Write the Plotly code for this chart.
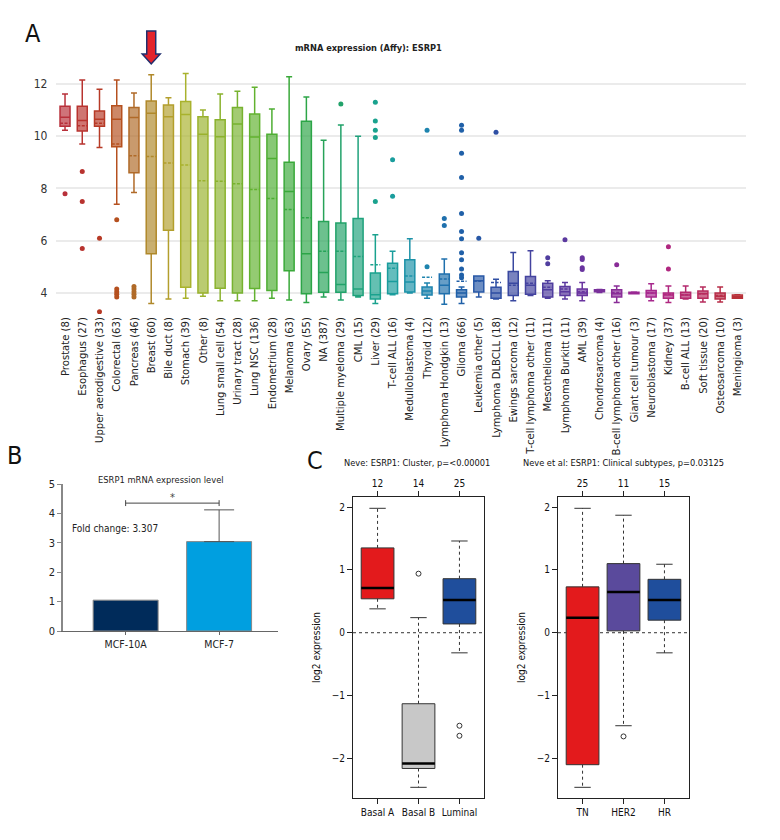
import plotly.graph_objects as go

FONT = "Liberation Sans Narrow, DejaVu Sans Condensed, Arial Narrow, sans-serif"
W, H = 780, 840
OFF = 8  # page body margin in the browser

# ---------------- panel A data ----------------
tissues = ["Prostate (8)", "Esophagus (27)", "Upper aerodigestive (33)", "Colorectal (63)",
           "Pancreas (46)", "Breast (60)", "Bile duct (8)", "Stomach (39)", "Other (8)",
           "Lung small cell (54)", "Urinary tract (28)", "Lung NSC (136)", "Endometrium (28)",
           "Melanoma (63)", "Ovary (55)", "NA (387)", "Multiple myeloma (29)", "CML (15)",
           "Liver (29)", "T-cell ALL (16)", "Medulloblastoma (4)", "Thyroid (12)",
           "Lymphoma Hondgkin (13)", "Glioma (66)", "Leukemia other (5)", "Lymphoma DLBCLL (18)",
           "Ewings sarcoma (12)", "T-cell lymphoma other (11)", "Mesothelioma (11)",
           "Lymphoma Burkitt (11)", "AML (39)", "Chondrosarcoma (4)", "B-cell lymphoma other (16)",
           "Giant cell tumour (3)", "Neuroblastoma (17)", "Kidney (37)", "B-cell ALL (13)",
           "Soft tissue (20)", "Osteosarcoma (10)", "Meningioma (3)"]
a_upper = [11.62, 12.15, 11.8, 12.15, 11.65, 12.35, 11.47, 12.4, 11.0, 11.62, 11.72, 11.87,
           11.04, 12.28, 11.5, 9.85, 10.43, 10.0, 6.23, 5.6, 6.08, 4.38, 5.3, 4.23, 4.65, 4.53,
           5.55, 5.62, 4.47, 4.4, 4.4, 4.13, 4.27, 4.04, 4.35, 4.27, 4.27, 4.23, 4.23, 3.93]
a_q3 = [11.15, 11.15, 10.97, 11.17, 11.1, 11.35, 11.2, 11.33, 10.75, 10.63, 11.1, 10.85,
        10.08, 9.0, 10.57, 6.74, 6.68, 6.85, 4.77, 5.14, 5.27, 4.23, 4.73, 4.12, 4.65, 4.22,
        4.82, 4.63, 4.37, 4.25, 4.15, 4.12, 4.12, 4.03, 4.1, 4.0, 4.03, 4.08, 4.0, 3.92]
a_median = [10.73, 10.6, 10.65, 10.65, 10.72, 10.88, 10.75, 10.83, 10.08, 9.98, 10.47, 9.97,
            9.15, 7.88, 5.5, 4.78, 4.33, 4.15, 3.93, 4.44, 4.42, 4.08, 4.3, 4.0, 4.47, 4.0,
            4.37, 4.3, 4.12, 4.05, 4.0, 4.08, 3.97, 4.0, 4.0, 3.92, 3.92, 3.97, 3.88, 3.86]
a_mean = [10.5, 10.4, 10.5, 9.7, 9.25, 9.22, 8.98, 8.9, 8.3, 8.28, 8.18, 7.96,
          7.62, 7.2, 6.88, 5.6, 5.6, 5.4, 5.08, 4.95, 4.65, 4.6, 4.54, 4.45, 4.45, 4.4,
          4.3, 4.37, 4.22, 4.15, 4.05, 4.08, 4.02, 4.0, 4.0, 3.95, 3.93, 3.97, 3.9, 3.86]
a_q1 = [10.38, 10.2, 10.38, 9.6, 8.6, 5.5, 6.4, 4.22, 4.0, 4.18, 4.0, 4.17,
        4.1, 4.85, 3.97, 4.03, 4.03, 3.9, 3.77, 3.97, 4.04, 3.92, 3.97, 3.85, 4.04, 3.8,
        3.9, 3.95, 3.85, 3.9, 3.9, 4.05, 3.85, 3.97, 3.85, 3.8, 3.8, 3.8, 3.77, 3.8]
a_lower = [10.23, 9.7, 9.57, 7.4, 7.85, 3.6, 3.77, 3.8, 3.88, 3.7, 3.7, 3.7,
           3.8, 3.73, 3.64, 3.85, 3.73, 3.85, 3.6, 3.93, 4.0, 3.8, 3.57, 3.6, 3.85, 3.77,
           3.7, 3.9, 3.8, 3.77, 3.7, 4.02, 3.64, 3.97, 3.7, 3.64, 3.77, 3.66, 3.66, 3.8]
a_outliers = {
    "Prostate (8)": [7.8],
    "Esophagus (27)": [8.65, 7.5, 5.7],
    "Upper aerodigestive (33)": [6.1, 3.28],
    "Colorectal (63)": [6.8, 4.15, 4.05, 3.95, 3.85],
    "Pancreas (46)": [4.25, 4.15, 4.05, 3.95, 3.85],
    "Multiple myeloma (29)": [11.23],
    "Liver (29)": [11.3, 10.58, 10.23, 9.95, 7.5],
    "T-cell ALL (16)": [9.1, 7.7],
    "Thyroid (12)": [10.23, 5.0],
    "Lymphoma Hondgkin (13)": [6.85, 6.58],
    "Glioma (66)": [10.42, 10.23, 9.35, 8.42, 7.04, 6.35, 6.08, 5.54, 5.27, 4.92, 4.69, 4.58],
    "Leukemia other (5)": [6.1],
    "Lymphoma DLBCLL (18)": [10.15],
    "Mesothelioma (11)": [5.35, 5.12],
    "Lymphoma Burkitt (11)": [6.04],
    "AML (39)": [5.35, 5.28, 4.97, 4.9],
    "B-cell lymphoma other (16)": [5.08],
    "Kidney (37)": [5.77, 4.92],
}
a_colors = ["#b8303a", "#b8332f", "#b73a26", "#b5501f", "#b06a28", "#b0892b", "#b39f2d",
            "#a9b22d", "#9ab22e", "#8ab22e", "#77b22f", "#62b22f", "#4eae33", "#3aa93a",
            "#2ca547", "#27a358", "#22a26a", "#1fa27c", "#1aa28e", "#1a9d9d", "#1c92a8",
            "#1e84ae", "#1f70ad", "#2060a8", "#2858a6", "#2f4fa4", "#3948a0", "#44439f",
            "#503e9f", "#5b399f", "#69349f", "#79309b", "#892c97", "#992893", "#a7288d",
            "#b02880", "#b4296e", "#b72b5c", "#b82e48", "#b83038"]

# ---------------- panel B data ----------------
b_lines = ["MCF-10A", "MCF-7"]
b_values = [1.05, 3.04]
b_err = [None, 1.08]
b_colors = ["#002b5a", "#009fe0"]

# ---------------- panel C data ----------------
c1_groups = ["Basal A", "Basal B", "Luminal"]
c1_n = ["12", "14", "25"]
c1_upper = [1.98, 0.24, 1.46]
c1_q3 = [1.35, -1.13, 0.86]
c1_median = [0.71, -2.08, 0.52]
c1_q1 = [0.54, -2.16, 0.14]
c1_lower = [0.38, -2.46, -0.32]
c1_out = [[], [0.94], [-1.48, -1.64]]
c1_colors = ["#e31a1c", "#c8c8c8", "#1f4e9c"]

c2_groups = ["TN", "HER2", "HR"]
c2_n = ["25", "11", "15"]
c2_upper = [1.98, 1.87, 1.09]
c2_q3 = [0.73, 1.1, 0.85]
c2_median = [0.24, 0.65, 0.52]
c2_q1 = [-2.1, 0.03, 0.2]
c2_lower = [-2.46, -1.48, -0.32]
c2_out = [[], [-1.65], []]
c2_colors = ["#e31a1c", "#5a4a9c", "#1f4e9c"]


def px_x(p):
    return (p - OFF) / W


def px_y(p):
    return 1 - (p - OFF) / H


def rgba(hexcol, a):
    h = hexcol.lstrip("#")
    return "rgba(%d,%d,%d,%g)" % (int(h[0:2], 16), int(h[2:4], 16), int(h[4:6], 16), a)


fig = go.Figure()

# ---- panel A: boxes ----
for i, t in enumerate(tissues):
    fig.add_trace(go.Box(
        x=[t], q1=[a_q1[i]], median=[a_median[i]], q3=[a_q3[i]],
        lowerfence=[a_lower[i]], upperfence=[a_upper[i]], mean=[a_mean[i]],
        boxmean=True, boxpoints=False, width=0.58, whiskerwidth=0.6,
        line=dict(color=a_colors[i], width=1.5), fillcolor=rgba(a_colors[i], 0.68),
        xaxis="x", yaxis="y", showlegend=False, hoverinfo="skip"))
ox, oy, oc = [], [], []
for i, t in enumerate(tissues):
    for v in a_outliers.get(t, []):
        ox.append(t)
        oy.append(v)
        oc.append(a_colors[i])
fig.add_trace(go.Scatter(x=ox, y=oy, mode="markers", marker=dict(color=oc, size=5),
                         xaxis="x", yaxis="y", showlegend=False, hoverinfo="skip"))

# ---- panel B: bars ----
for i, name in enumerate(b_lines):
    err = None
    if b_err[i] is not None:
        err = dict(type="data", array=[b_err[i]], arrayminus=[0], symmetric=False,
                   color="#555555", thickness=1, width=15)
    fig.add_trace(go.Bar(x=[name], y=[b_values[i]], width=0.695, error_y=err,
                         marker=dict(color=b_colors[i], line=dict(color="#888888", width=1)),
                         xaxis="x2", yaxis="y2", showlegend=False, hoverinfo="skip"))


# ---- panel C: R-style boxplots ----
def r_boxes(xa, ya, upper, q3, med, q1, lower, outs, colors, xtop):
    idx = list(range(len(med)))
    fig.add_trace(go.Bar(x=idx, y=[q3[i] - q1[i] for i in idx], base=q1, width=0.8,
                         marker=dict(color=colors, line=dict(color="#333333", width=1)),
                         xaxis=xa, yaxis=ya, showlegend=False, hoverinfo="skip"))
    wx, wy, cx, cy, mx, my = [], [], [], [], [], []
    for i in idx:
        wx += [i, i, None, i, i, None]
        wy += [q3[i], upper[i], None, q1[i], lower[i], None]
        cx += [i - 0.2, i + 0.2, None, i - 0.2, i + 0.2, None]
        cy += [upper[i], upper[i], None, lower[i], lower[i], None]
        mx += [i - 0.4, i + 0.4, None]
        my += [med[i], med[i], None]
    fig.add_trace(go.Scatter(x=wx, y=wy, mode="lines", line=dict(color="#333333", width=1, dash="dot"),
                             xaxis=xa, yaxis=ya, showlegend=False, hoverinfo="skip"))
    fig.add_trace(go.Scatter(x=cx, y=cy, mode="lines", line=dict(color="#333333", width=1),
                             xaxis=xa, yaxis=ya, showlegend=False, hoverinfo="skip"))
    fig.add_trace(go.Scatter(x=mx, y=my, mode="lines", line=dict(color="#000000", width=2.5),
                             xaxis=xa, yaxis=ya, showlegend=False, hoverinfo="skip"))
    px_, py_ = [], []
    for i in idx:
        for v in outs[i]:
            px_.append(i)
            py_.append(v)
    fig.add_trace(go.Scatter(x=px_, y=py_, mode="markers",
                             marker=dict(symbol="circle-open", size=5, color="#333333", line=dict(width=1)),
                             xaxis=xa, yaxis=ya, showlegend=False, hoverinfo="skip"))
    # invisible trace so the top axis is drawn
    fig.add_trace(go.Scatter(x=idx, y=med, mode="markers", marker=dict(opacity=0),
                             xaxis=xtop, yaxis=ya, showlegend=False, hoverinfo="skip"))


r_boxes("x3", "y3", c1_upper, c1_q3, c1_median, c1_q1, c1_lower, c1_out, c1_colors, "x5")
r_boxes("x4", "y4", c2_upper, c2_q3, c2_median, c2_q1, c2_lower, c2_out, c2_colors, "x6")

TXT = "#222222"
c_font = dict(family=FONT, size=10, color="#111111")
c_yrange = [-2.63, 2.16]
c_xrange = [-0.6, 2.6]
c_ydom = [px_y(798), px_y(497)]
c_common_x = dict(range=c_xrange, tickvals=[0, 1, 2], tickangle=0, showline=True, mirror=True,
                  linecolor="#222222", linewidth=1, ticks="outside", ticklen=5, tickcolor="#222222",
                  showgrid=False, zeroline=False, tickfont=c_font, automargin=False)
c_common_y = dict(domain=c_ydom, range=c_yrange, tickvals=[-2, -1, 0, 1, 2], showline=True,
                  mirror=True, linecolor="#222222", linewidth=1, ticks="outside", ticklen=5,
                  tickcolor="#222222", showgrid=False, zeroline=False, tickfont=c_font,
                  automargin=False,
                  title=dict(text="log2 expression", font=dict(family=FONT, size=10, color="#111111"),
                             standoff=9))
c_common_top = dict(side="top", range=c_xrange, tickvals=[0, 1, 2], tickangle=0, ticks="outside",
                    ticklen=5, tickcolor="#222222", showgrid=False, zeroline=False,
                    showline=False, tickfont=c_font, automargin=False)

fig.update_layout(
    width=W, height=H, margin=dict(l=0, r=0, t=0, b=0, autoexpand=False),
    paper_bgcolor="white", plot_bgcolor="white",
    font=dict(family=FONT, size=10, color=TXT),
    barmode="overlay", boxmode="overlay",
    # panel A
    xaxis=dict(domain=[px_x(56.4), px_x(746)], type="category", categoryorder="array",
               categoryarray=tissues, range=[-0.5, len(tissues) - 0.5], tickangle=-90,
               showline=False, showgrid=False, ticks="", zeroline=False, automargin=False,
               tickfont=dict(family=FONT, size=11.2, color=TXT), anchor="y"),
    yaxis=dict(domain=[px_y(313.9), px_y(68.3)], range=[3.2, 12.6], tickvals=[4, 6, 8, 10, 12],
               showgrid=True, gridcolor="#ebebeb", gridwidth=1.5, zeroline=False, showline=False,
               ticks="", ticklabelstandoff=8, automargin=False,
               tickfont=dict(family=FONT, size=12, color="#333333"), anchor="x"),
    # panel B
    xaxis2=dict(domain=[px_x(63), px_x(278)], type="category", range=[-0.67, 1.63],
                showline=True, linecolor="#666666", linewidth=1, ticks="outside", ticklen=3,
                tickcolor="#666666", showgrid=False, zeroline=False, automargin=False,
                tickfont=dict(family=FONT, size=10.5, color=TXT), anchor="y2"),
    yaxis2=dict(domain=[px_y(631), px_y(484)], range=[0, 5], dtick=1, showline=True,
                linecolor="#888888", linewidth=1.5, ticks="outside", ticklen=4, tickcolor="#888888",
                showgrid=False, zeroline=False, automargin=False,
                tickfont=dict(family=FONT, size=11, color=TXT), anchor="x2"),
    # panel C
    xaxis3=dict(domain=[px_x(353), px_x(484)], ticktext=c1_groups, anchor="y3", **c_common_x),
    yaxis3=dict(anchor="x3", **c_common_y),
    xaxis5=dict(overlaying="x3", ticktext=c1_n, anchor="y3", **c_common_top),
    xaxis4=dict(domain=[px_x(558), px_x(689)], ticktext=c2_groups, anchor="y4", **c_common_x),
    yaxis4=dict(anchor="x4", **c_common_y),
    xaxis6=dict(overlaying="x4", ticktext=c2_n, anchor="y4", **c_common_top),
)

# zero reference lines in panel C
for xa, ya in (("x3", "y3"), ("x4", "y4")):
    fig.add_shape(type="line", xref=xa + " domain", yref=ya, x0=0, x1=1, y0=0, y1=0,
                  line=dict(color="#333333", width=1, dash="dot"), layer="below")

# significance bracket in panel B
fig.add_shape(type="line", xref="x2", yref="y2", x0=0, x1=1, y0=4.35, y1=4.35,
              line=dict(color="#444444", width=1))
for xb in (0, 1):
    fig.add_shape(type="line", xref="x2", yref="y2", x0=xb, x1=xb, y0=4.25, y1=4.45,
                  line=dict(color="#444444", width=1))

# red arrow marking Breast
fig.add_shape(type="path", xref="x", xsizemode="pixel", xanchor=tissues.index("Breast (60)"),
              yref="paper",
              path="M -4.5,%f L 4.5,%f L 4.5,%f L 9,%f L 0,%f L -9,%f L -4.5,%f Z" % (
                  px_y(31), px_y(31), px_y(54), px_y(54), px_y(64), px_y(54), px_y(54)),
              fillcolor="#e3232b", line=dict(color="#1f2f6e", width=1.5))

ann = [
    dict(text="A", x=px_x(33), y=px_y(33), font=dict(family=FONT, size=25, color="#111111")),
    dict(text="B", x=px_x(14), y=px_y(455), font=dict(family=FONT, size=25, color="#111111")),
    dict(text="C", x=px_x(315), y=px_y(460), font=dict(family=FONT, size=25, color="#111111")),
    dict(text="<b>mRNA expression (Affy): ESRP1</b>", x=px_x(368), y=px_y(47),
         font=dict(family=FONT, size=9.2, color=TXT)),
    dict(text="ESRP1 mRNA expression level", x=px_x(161), y=px_y(479),
         font=dict(family=FONT, size=9.3, color=TXT)),
    dict(text="Fold change: 3.307", x=px_x(70), y=px_y(528), xanchor="left",
         font=dict(family=FONT, size=10, color=TXT)),
    dict(text="*", x=px_x(172), y=px_y(497), font=dict(family=FONT, size=11, color="#444444")),
    dict(text="Neve: ESRP1: Cluster, p=<0.00001", x=px_x(417), y=px_y(463),
         font=dict(family=FONT, size=9.2, color="#111111")),
    dict(text="Neve et al: ESRP1: Clinical subtypes, p=0.03125", x=px_x(623), y=px_y(463),
         font=dict(family=FONT, size=9.2, color="#111111")),
]
for a in ann:
    a.setdefault("xanchor", "center")
    fig.add_annotation(xref="paper", yref="paper", yanchor="middle", showarrow=False, **a)

fig.write_html("out.html")
